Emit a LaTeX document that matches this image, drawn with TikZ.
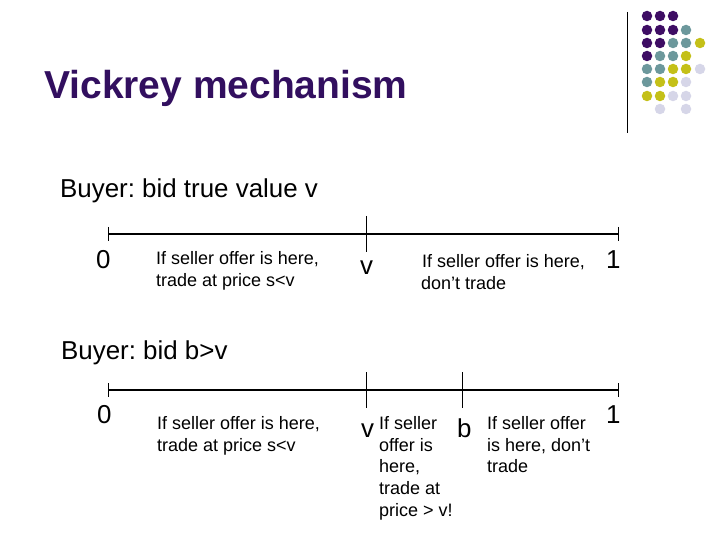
\documentclass[tikz,border=0pt]{standalone}
\usepackage{fontspec}
\setmainfont{Liberation Sans}
\frenchspacing
\definecolor{dotP}{RGB}{62,13,100}
\definecolor{dotT}{RGB}{108,152,156}
\definecolor{dotY}{RGB}{196,192,24}
\definecolor{dotL}{RGB}{214,214,232}
\definecolor{titleC}{RGB}{50,15,95}
\tikzset{
 x=1pt,y=-1pt,
 dotnode/.style={circle,inner sep=0pt,minimum size=10.5pt,fill=#1},
 axis/.style={line width=2.8pt,draw=black},
 tick/.style={line width=0.8pt,draw=black},
 big/.style={inner sep=0pt,anchor=west,font=\fontsize{25.9}{30}\selectfont},
 small/.style={inner sep=0pt,anchor=north west,align=left,font=\fontsize{18}{21.8}\selectfont},
}
\begin{document}
\begin{tikzpicture}
\useasboundingbox (0,0) rectangle (720,540);
\fill[white] (0,0) rectangle (720,540);
\coordinate (ruleT) at (627.5,12);
\coordinate (ruleB) at (627.5,133);
\draw[line width=0.9pt] (ruleT) -- (ruleB);
\foreach \cx/\cy/\c [count=\i] in {
 647/16/dotP,660/16/dotP,673/16/dotP,
 647/30/dotP,660/30/dotP,673/30/dotP,686/30/dotT,
 647/43/dotP,660/43/dotP,673/43/dotT,686/43/dotT,700/43/dotY,
 647/56/dotP,660/56/dotT,673/56/dotT,686/56/dotY,
 647/69/dotT,660/69/dotT,673/69/dotY,686/69/dotY,700/69/dotL,
 647/82/dotT,660/82/dotY,673/82/dotY,686/82/dotL,
 647/96/dotY,660/96/dotY,673/96/dotL,686/96/dotL,
 660/109/dotL,686/109/dotL}
 \node[dotnode=\c] (d\i) at (\cx,\cy) {};
\node[inner sep=0pt,anchor=west,text=titleC,font=\bfseries\fontsize{39}{44}\selectfont] (title) at (44,88) {Vickrey mechanism};
\node[big] (b1) at (60,191) {Buyer: bid true value v};
\node[big] (b2) at (61,352.5) {Buyer: bid b>v};
% upper axis
\coordinate (a0) at (108,234);
\coordinate (a1) at (618,234);
\coordinate (av) at (366.5,234);
\draw[axis] (a0) -- (a1);
\draw[tick] ([yshift=7pt]a0) -- ([yshift=-7pt]a0);
\draw[tick] ([yshift=7pt]a1) -- ([yshift=-7pt]a1);
\draw[tick] ([yshift=18pt]av) -- ([yshift=-18pt]av);
\node[big] (z1) at (96,260) {0};
\node[big] (v1) at (360,268) {v};
\node[big] (o1) at (606,260) {1};
\node[small] (t1) at (156,251) {If seller offer is here,\\trade at price s<v};
\node[small] (t2) at (421,254) {\hspace{1pt}If seller offer is here,\\don’t trade};
% lower axis
\coordinate (c0) at (108,390);
\coordinate (c1) at (618,390);
\coordinate (cv) at (366,390);
\coordinate (cb) at (462,390);
\draw[axis] (c0) -- (c1);
\draw[tick] ([yshift=7pt]c0) -- ([yshift=-7pt]c0);
\draw[tick] ([yshift=7pt]c1) -- ([yshift=-7pt]c1);
\draw[tick] ([yshift=18pt]cv) -- ([yshift=-18pt]cv);
\draw[tick] ([yshift=18pt]cb) -- ([yshift=-18pt]cb);
\node[big] (z2) at (97,415) {0};
\node[big] (v2) at (361,431) {v};
\node[big] (b3) at (457,428) {b};
\node[big] (o2) at (606,415) {1};
\node[small] (t3) at (157,416) {If seller offer is here,\\trade at price s<v};
\node[small] (t4) at (379,416) {If seller\\offer is\\here,\\trade at\\price > v!};
\node[small] (t5) at (487,416) {If seller offer\\is here, don’t\\trade};
\end{tikzpicture}
\end{document}
